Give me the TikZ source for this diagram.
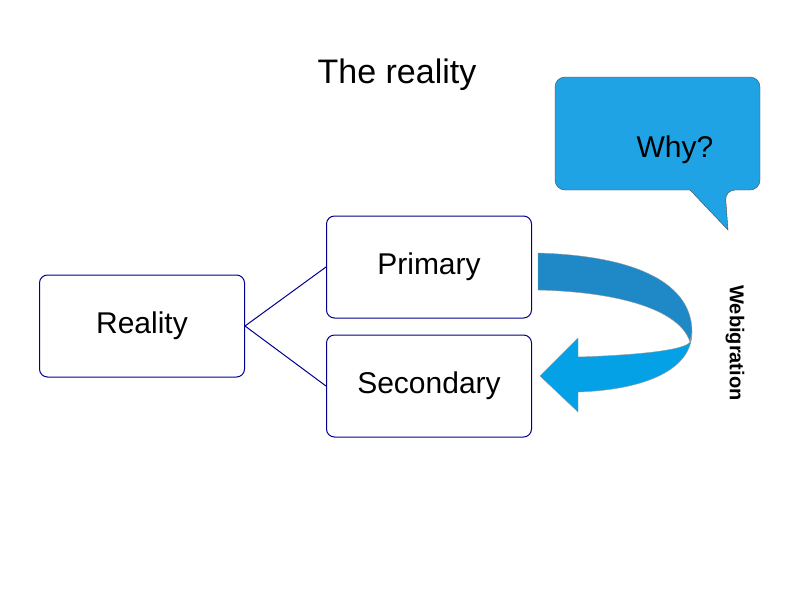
\documentclass[tikz,border=0pt]{standalone}
\usepackage{fontspec}
\setmainfont{Liberation Sans}
\begin{document}
\begin{tikzpicture}[x=1pt,y=-1pt,
  box/.style={draw=blue!55!black,line width=1pt,rounded corners=8pt,fill=white},
  big/.style={font=\fontsize{34}{40}\selectfont}]
\useasboundingbox (0,0) rectangle (794,595);
\node[big] (title) at (397,75) {The reality};
\draw[fill=cyan!85!blue!90!white,draw=black!70,rounded corners=10pt] (555,77) -- (760,77) -- (760,190) -- (725,190) [sharp corners]-- (728,230) -- (690,190) [rounded corners=10pt]-- (555,190) -- cycle;
\node[big,font=\fontsize{30}{36}\selectfont] (why) at (675,150) {Why?};
\node[box,minimum width=205pt,minimum height=102pt,big,font=\fontsize{30}{36}\selectfont] (real) at (142,326) {Reality};
\node[box,minimum width=205pt,minimum height=102pt,font=\fontsize{30}{36}\selectfont] (prim) at (429,267) {Primary};
\node[box,minimum width=205pt,minimum height=102pt,font=\fontsize{30}{36}\selectfont] (sec) at (429,386) {Secondary};
\draw[blue!55!black,line width=1pt] (real.east) -- (prim.west);
\draw[blue!55!black,line width=1pt] (real.east) -- (sec.west);
\fill[cyan!75!blue!90!black,draw=black!40] (538,253) .. controls (640,256) and (692,285) .. (692,332) -- (690,342) .. controls (680,310) and (620,292) .. (538,290) -- cycle;
\fill[cyan!90!blue,draw=black!40] (692,332) .. controls (692,372) and (640,390) .. (578,392) -- (578,412) -- (540,376) -- (578,338) -- (578,357) .. controls (640,355) and (685,350) .. (690,342) -- cycle;
\node[rotate=-90,font=\fontsize{20}{24}\selectfont\bfseries] (web) at (735,343) {Webigration};
\end{tikzpicture}
\end{document}
